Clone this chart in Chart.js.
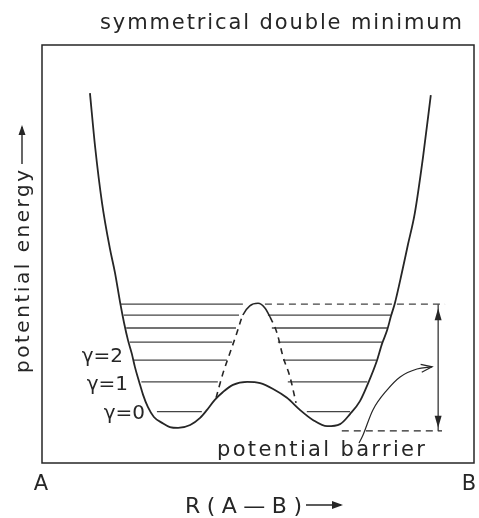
<!DOCTYPE html>
<html>
<head>
<meta charset="utf-8">
<script src="https://cdn.jsdelivr.net/npm/chart.js@4"></script>
<style>
  html, body { margin: 0; padding: 0; background: #fff; }
  #wrap { width: 479px; height: 518px; }
</style>
</head>
<body>
<div id="wrap"><canvas id="chart" width="479" height="518"></canvas></div>
<script>
// potential curve (R and energy in 0..100 of the frame)
const potR = [11.1, 12.3, 13.9, 15.7, 16.9, 18.1, 19.0, 19.9, 20.8, 21.5, 22.5, 23.4, 24.5, 25.9, 27.8, 29.6, 31.5,
  34.3, 36.6, 38.2, 40.0, 41.9, 44.2, 47.5, 50.5, 53.5, 56.7, 59.7, 62.7, 66.0,
  69.0, 71.3, 73.6, 75.5, 77.5, 78.7, 79.9, 80.8, 81.7, 83.3, 84.7, 86.3, 88.2, 90.0];
const potE = [88.5, 75.6, 62.2, 51.4, 45.5, 38.3, 33.5, 29.4, 26.1, 23.0, 19.4, 16.3, 13.4, 11.0, 9.6, 8.6, 8.4,
  9.1, 10.8, 12.7, 15.1, 17.0, 18.7, 19.4, 19.1, 17.7, 15.6, 12.7, 10.3, 8.8,
  9.3, 11.7, 14.8, 19.1, 24.4, 28.5, 31.8, 35.2, 38.3, 45.5, 52.2, 59.8, 73.2, 88.0];

// higher (dashed) barrier
const bumpR = [40.3, 41.9, 43.5, 45.1, 46.5, 48.1, 50.0, 51.6, 52.8, 54.4, 55.8, 57.4, 58.8];
const bumpE = [15.6, 21.5, 26.3, 31.1, 35.4, 37.6, 38.2, 37.1, 34.9, 31.1, 25.4, 20.6, 14.4];

// vibrational levels
const levelE = [38.0, 35.4, 32.3, 28.9, 24.6, 19.4, 12.3];
const levelLeftFrom = [18.3, 18.9, 19.5, 20.3, 21.3, 23.0, 26.6];
const levelLeftTo = [46.5, 45.6, 44.9, 44.0, 42.8, 40.7, 37.0];
const levelRightFrom = [51.6, 52.3, 53.2, 54.6, 55.8, 56.9, 61.3];
const levelRightTo = [93.3, 80.7, 79.9, 78.7, 77.4, 75.3, 71.3];
const levelNames = ["γ=2", "γ=1", "γ=0"];

// barrier height marker and pointer to it
const baseE = 7.7;
const baseR = [69.4, 92.6];
const heightR = 91.7;
const pointerR = [73.4, 74.1, 76.6, 79.9, 82.9, 86.8, 90.3];
const pointerE = [4.8, 6.2, 12.7, 17.5, 20.6, 22.5, 23.0];

const ink = "#262626";
const font = "'DejaVu Sans', sans-serif";

function pts(xs, ys) {
  return xs.map((x, i) => ({ x: x, y: ys[i] }));
}

function line(data, opts) {
  return Object.assign({
    data: data,
    showLine: true,
    pointRadius: 0,
    borderColor: ink,
    borderWidth: 1.3,
    fill: false,
  }, opts || {});
}

const datasets = [];
datasets.push(line(pts(potR, potE), { borderWidth: 1.8, cubicInterpolationMode: "monotone" }));
datasets.push(line(pts(bumpR, bumpE), {
  borderWidth: 1.6,
  cubicInterpolationMode: "monotone",
  segment: {
    borderDash: (c) => (c.p0.parsed.y > 34.5 && c.p1.parsed.y > 34.5) ? [] : [6, 5],
  },
}));
levelE.forEach((e, i) => {
  datasets.push(line(pts([levelLeftFrom[i], levelLeftTo[i]], [e, e]), { borderColor: "#444" }));
  datasets.push(line(pts([levelRightFrom[i], levelRightTo[i]], [e, e]), {
    borderColor: "#444",
    borderDash: i === 0 ? [7, 5] : [],
  }));
});
datasets.push(line(pts(baseR, [baseE, baseE]), { borderDash: [7, 5] }));
datasets.push(line(pts([heightR, heightR], [levelE[0], baseE]), { borderWidth: 1.2 }));
datasets.push(line(pts(pointerR, pointerE), { borderWidth: 1.2, cubicInterpolationMode: "monotone" }));

function head(ctx, x0, y0, x1, y1, len, half, filled) {
  const a = Math.atan2(y1 - y0, x1 - x0);
  const bx = x1 - len * Math.cos(a), by = y1 - len * Math.sin(a);
  const nx = -Math.sin(a) * half, ny = Math.cos(a) * half;
  ctx.beginPath();
  ctx.moveTo(bx + nx, by + ny);
  ctx.lineTo(x1, y1);
  ctx.lineTo(bx - nx, by - ny);
  if (filled) { ctx.closePath(); ctx.fill(); } else ctx.stroke();
}

function spanText(ctx, s, x0, x1, y) {
  ctx.letterSpacing = "0px";
  const w = ctx.measureText(s).width;
  const sp = (x1 - x0 - w) / (s.length - 1);
  ctx.letterSpacing = sp + "px";
  ctx.textAlign = "left";
  ctx.fillText(s, x0, y);
  ctx.letterSpacing = "0px";
}

const drawing = {
  id: "drawing",
  afterDraw(chart) {
    const ctx = chart.ctx;
    const a = chart.chartArea;
    const xs = chart.scales.x, ys = chart.scales.y;
    ctx.save();
    ctx.strokeStyle = ink;
    ctx.fillStyle = ink;
    ctx.lineWidth = 1.5;
    ctx.strokeRect(a.left, a.top, a.right - a.left, a.bottom - a.top);

    // barrier height arrow heads
    const hx = xs.getPixelForValue(heightR);
    const ht = ys.getPixelForValue(levelE[0]), hb = ys.getPixelForValue(baseE);
    ctx.lineWidth = 1.2;
    head(ctx, hx, ht + 20, hx, ht + 4, 12, 3.5, true);
    head(ctx, hx, hb - 20, hx, hb - 3, 12, 3.5, true);
    // pointer head
    const n = pointerR.length;
    head(ctx, xs.getPixelForValue(pointerR[n - 2]), ys.getPixelForValue(pointerE[n - 2]),
      xs.getPixelForValue(pointerR[n - 1]), ys.getPixelForValue(pointerE[n - 1]), 11, 4, false);

    ctx.textBaseline = "alphabetic";
    ctx.font = "21px " + font;
    spanText(ctx, "symmetrical double minimum", 100, 462, 29);
    spanText(ctx, "potential barrier", 217, 425, 456);

    ctx.font = "20px " + font;
    ctx.textAlign = "right";
    ctx.fillText(levelNames[0], 123, 362);
    ctx.fillText(levelNames[1], 128, 390);
    ctx.fillText(levelNames[2], 145, 419);

    ctx.font = "21px " + font;
    ctx.textAlign = "center";
    ctx.fillText("A", 41, 490);
    ctx.fillText("B", 469, 490);
    ctx.font = "22px " + font;
    spanText(ctx, "R(A—B)", 185, 302, 513);
    ctx.lineWidth = 1.4;
    ctx.beginPath();
    ctx.moveTo(306, 505);
    ctx.lineTo(341, 505);
    ctx.stroke();
    head(ctx, 320, 505, 343, 505, 11, 4, true);

    // y label
    ctx.save();
    ctx.translate(29, 373);
    ctx.rotate(-Math.PI / 2);
    ctx.font = "20px " + font;
    spanText(ctx, "potential energy", 0, 203, 0);
    ctx.restore();
    ctx.beginPath();
    ctx.moveTo(22, 164);
    ctx.lineTo(22, 127);
    ctx.stroke();
    head(ctx, 22, 150, 22, 125, 10, 3.5, true);
    ctx.restore();
  },
};

new Chart(document.getElementById("chart"), {
  type: "scatter",
  data: { datasets: datasets },
  options: {
    responsive: false,
    animation: false,
    layout: { padding: { left: 42, right: 5, top: 45, bottom: 55 } },
    plugins: { legend: { display: false }, tooltip: { enabled: false }, title: { display: false } },
    scales: {
      x: { type: "linear", min: 0, max: 100, display: false },
      y: { type: "linear", min: 0, max: 100, display: false },
    },
  },
  plugins: [drawing],
});
</script>
</body>
</html>
